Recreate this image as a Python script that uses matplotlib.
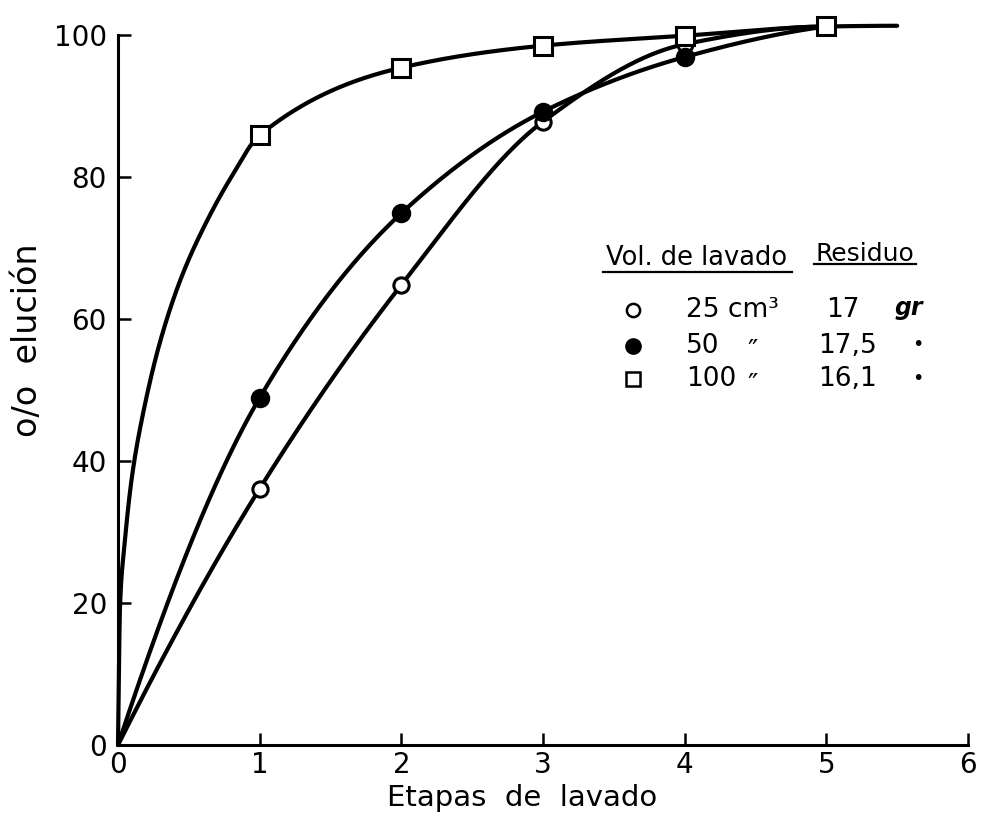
import matplotlib
matplotlib.use("Agg")
import matplotlib.pyplot as plt
import numpy as np

# values
etapas = [1, 2, 3, 4, 5]
elucion_25 = [36.1, 64.8, 87.8, 98.7, 101.2]
elucion_50 = [48.9, 74.9, 89.2, 96.9, 101.2]
elucion_100 = [85.9, 95.4, 98.5, 99.9, 101.2]

# extra points (steep start, tail past stage 5)
trazo_100_x = [0.015, 0.045, 0.1, 0.18, 0.3, 0.45, 0.62, 0.8, 5.5]
trazo_100_y = [20, 28, 38, 47, 57, 66, 73.5, 80, 101.3]

x_ticks = [0, 1, 2, 3, 4, 5, 6]
y_ticks = [0, 20, 40, 60, 80, 100]

plt.rcParams['font.family'] = ['DejaVu Sans']
fs = 20


def pchip(x, y, xs):
    # monotone cubic through the read points, drawn like a french curve
    x = np.asarray(x, float)
    y = np.asarray(y, float)
    h = np.diff(x)
    d = np.diff(y) / h
    m = np.zeros_like(x)
    for k in range(1, len(x) - 1):
        if d[k - 1] * d[k] > 0:
            w1 = 2 * h[k] + h[k - 1]
            w2 = h[k] + 2 * h[k - 1]
            m[k] = (w1 + w2) / (w1 / d[k - 1] + w2 / d[k])

    def end(h0, h1, d0, d1):
        s = ((2 * h0 + h1) * d0 - h0 * d1) / (h0 + h1)
        if np.sign(s) != np.sign(d0):
            s = 0.0
        elif np.sign(d0) != np.sign(d1) and abs(s) > abs(3 * d0):
            s = 3 * d0
        return s

    m[0] = end(h[0], h[1], d[0], d[1])
    m[-1] = end(h[-1], h[-2], d[-1], d[-2])
    i = np.clip(np.searchsorted(x, xs) - 1, 0, len(h) - 1)
    t = (xs - x[i]) / h[i]
    h00 = 2 * t**3 - 3 * t**2 + 1
    h10 = t**3 - 2 * t**2 + t
    h01 = -2 * t**3 + 3 * t**2
    h11 = t**3 - t**2
    return h00 * y[i] + h10 * h[i] * m[i] + h01 * y[i + 1] + h11 * h[i] * m[i + 1]


def curva(xp, yp):
    xp = np.asarray(xp, float)
    yp = np.asarray(yp, float)
    orden = np.argsort(xp)
    xp, yp = xp[orden], yp[orden]
    xs = np.unique(np.concatenate([np.linspace(0, 0.2, 400), np.linspace(0.2, xp[-1], 1200)]))
    return xs, pchip(xp, yp, xs)


fig = plt.figure(figsize=(9.82, 8.17), dpi=100)
ax = fig.add_axes([118 / 982, 72 / 817, 850 / 982, 738.4 / 817])
ax.set_xlim(0, 6)
ax.set_ylim(0, 104)

lw = 3.0
for serie, extra_x, extra_y in [(elucion_25, [], []),
                                (elucion_50, [], []),
                                (elucion_100, trazo_100_x, trazo_100_y)]:
    xs, ys = curva([0] + extra_x + etapas, [0] + extra_y + serie)
    ax.plot(xs, ys, color='black', lw=lw, solid_capstyle='round', zorder=2, clip_on=False)

ax.plot(etapas, elucion_25, 'o', ms=11, mfc='white', mec='black', mew=2.2, zorder=3, clip_on=False)
ax.plot(etapas, elucion_50, 'o', ms=12, mfc='black', mec='black', mew=2, zorder=3, clip_on=False)
ax.plot(etapas, elucion_100, 's', ms=13, mfc='white', mec='black', mew=2.2, zorder=4, clip_on=False)

for s in ['top', 'right']:
    ax.spines[s].set_visible(False)
for s in ['left', 'bottom']:
    ax.spines[s].set_linewidth(2.2)
ax.spines['left'].set_bounds(0, 100)
ax.spines['bottom'].set_bounds(0, 6)

ax.set_xticks(x_ticks)
ax.set_yticks(y_ticks)
ax.tick_params(direction='in', length=9, width=1.8, labelsize=fs)
ax.tick_params(axis='x', pad=4)
ax.tick_params(axis='y', pad=8)

fig.text(522 / 982, 1 - 798 / 817, 'Etapas  de  lavado', ha='center', va='center', fontsize=fs + 1)
fig.text(28 / 982, 1 - 340 / 817, 'o/o  elución', ha='center', va='center', rotation=90, fontsize=24)


# legend drawn as a small table, positions in figure pixels
def fp(px, py):
    return px / 982, 1 - py / 817


def txt(px, py, s, size=18, **kw):
    fig.text(*fp(px, py), s, ha='left', va='center', fontsize=size, **kw)


txt(606, 258, 'Vol. de lavado', size=18.5)
txt(816, 254, 'Residuo', size=18)
fig.add_artist(plt.Line2D([603 / 982, 792 / 982], [1 - 272 / 817] * 2, color='black', lw=1.6))
fig.add_artist(plt.Line2D([814 / 982, 916 / 982], [1 - 264 / 817] * 2, color='black', lw=1.6))

filas_y = [310, 346, 379]
vol_txt = ['25 cm³', '50', '100']
res_txt = ['17', '17,5', '16,1']
estilos = [dict(marker='o', ms=9.5, mfc='white', mew=1.8),
           dict(marker='o', ms=10.5, mfc='black', mew=1.5),
           dict(marker='s', ms=9.5, mfc='white', mew=1.8)]
for fy, vt, rt, st in zip(filas_y, vol_txt, res_txt, estilos):
    fig.add_artist(plt.Line2D([633 / 982], [1 - fy / 817], color='black', mec='black', ls='none', **st))
    txt(686, fy, vt, size=19)
    txt(818 if rt != '17' else 826, fy, rt, size=19)
txt(747, 352, '″', size=20)
txt(747, 386, '″', size=20)
txt(895, 308, 'gr', size=17, fontweight='bold', fontstyle='italic')
txt(912, 344, '•', size=14)
txt(912, 378, '•', size=14)

fig.savefig('out.png', dpi=100)
